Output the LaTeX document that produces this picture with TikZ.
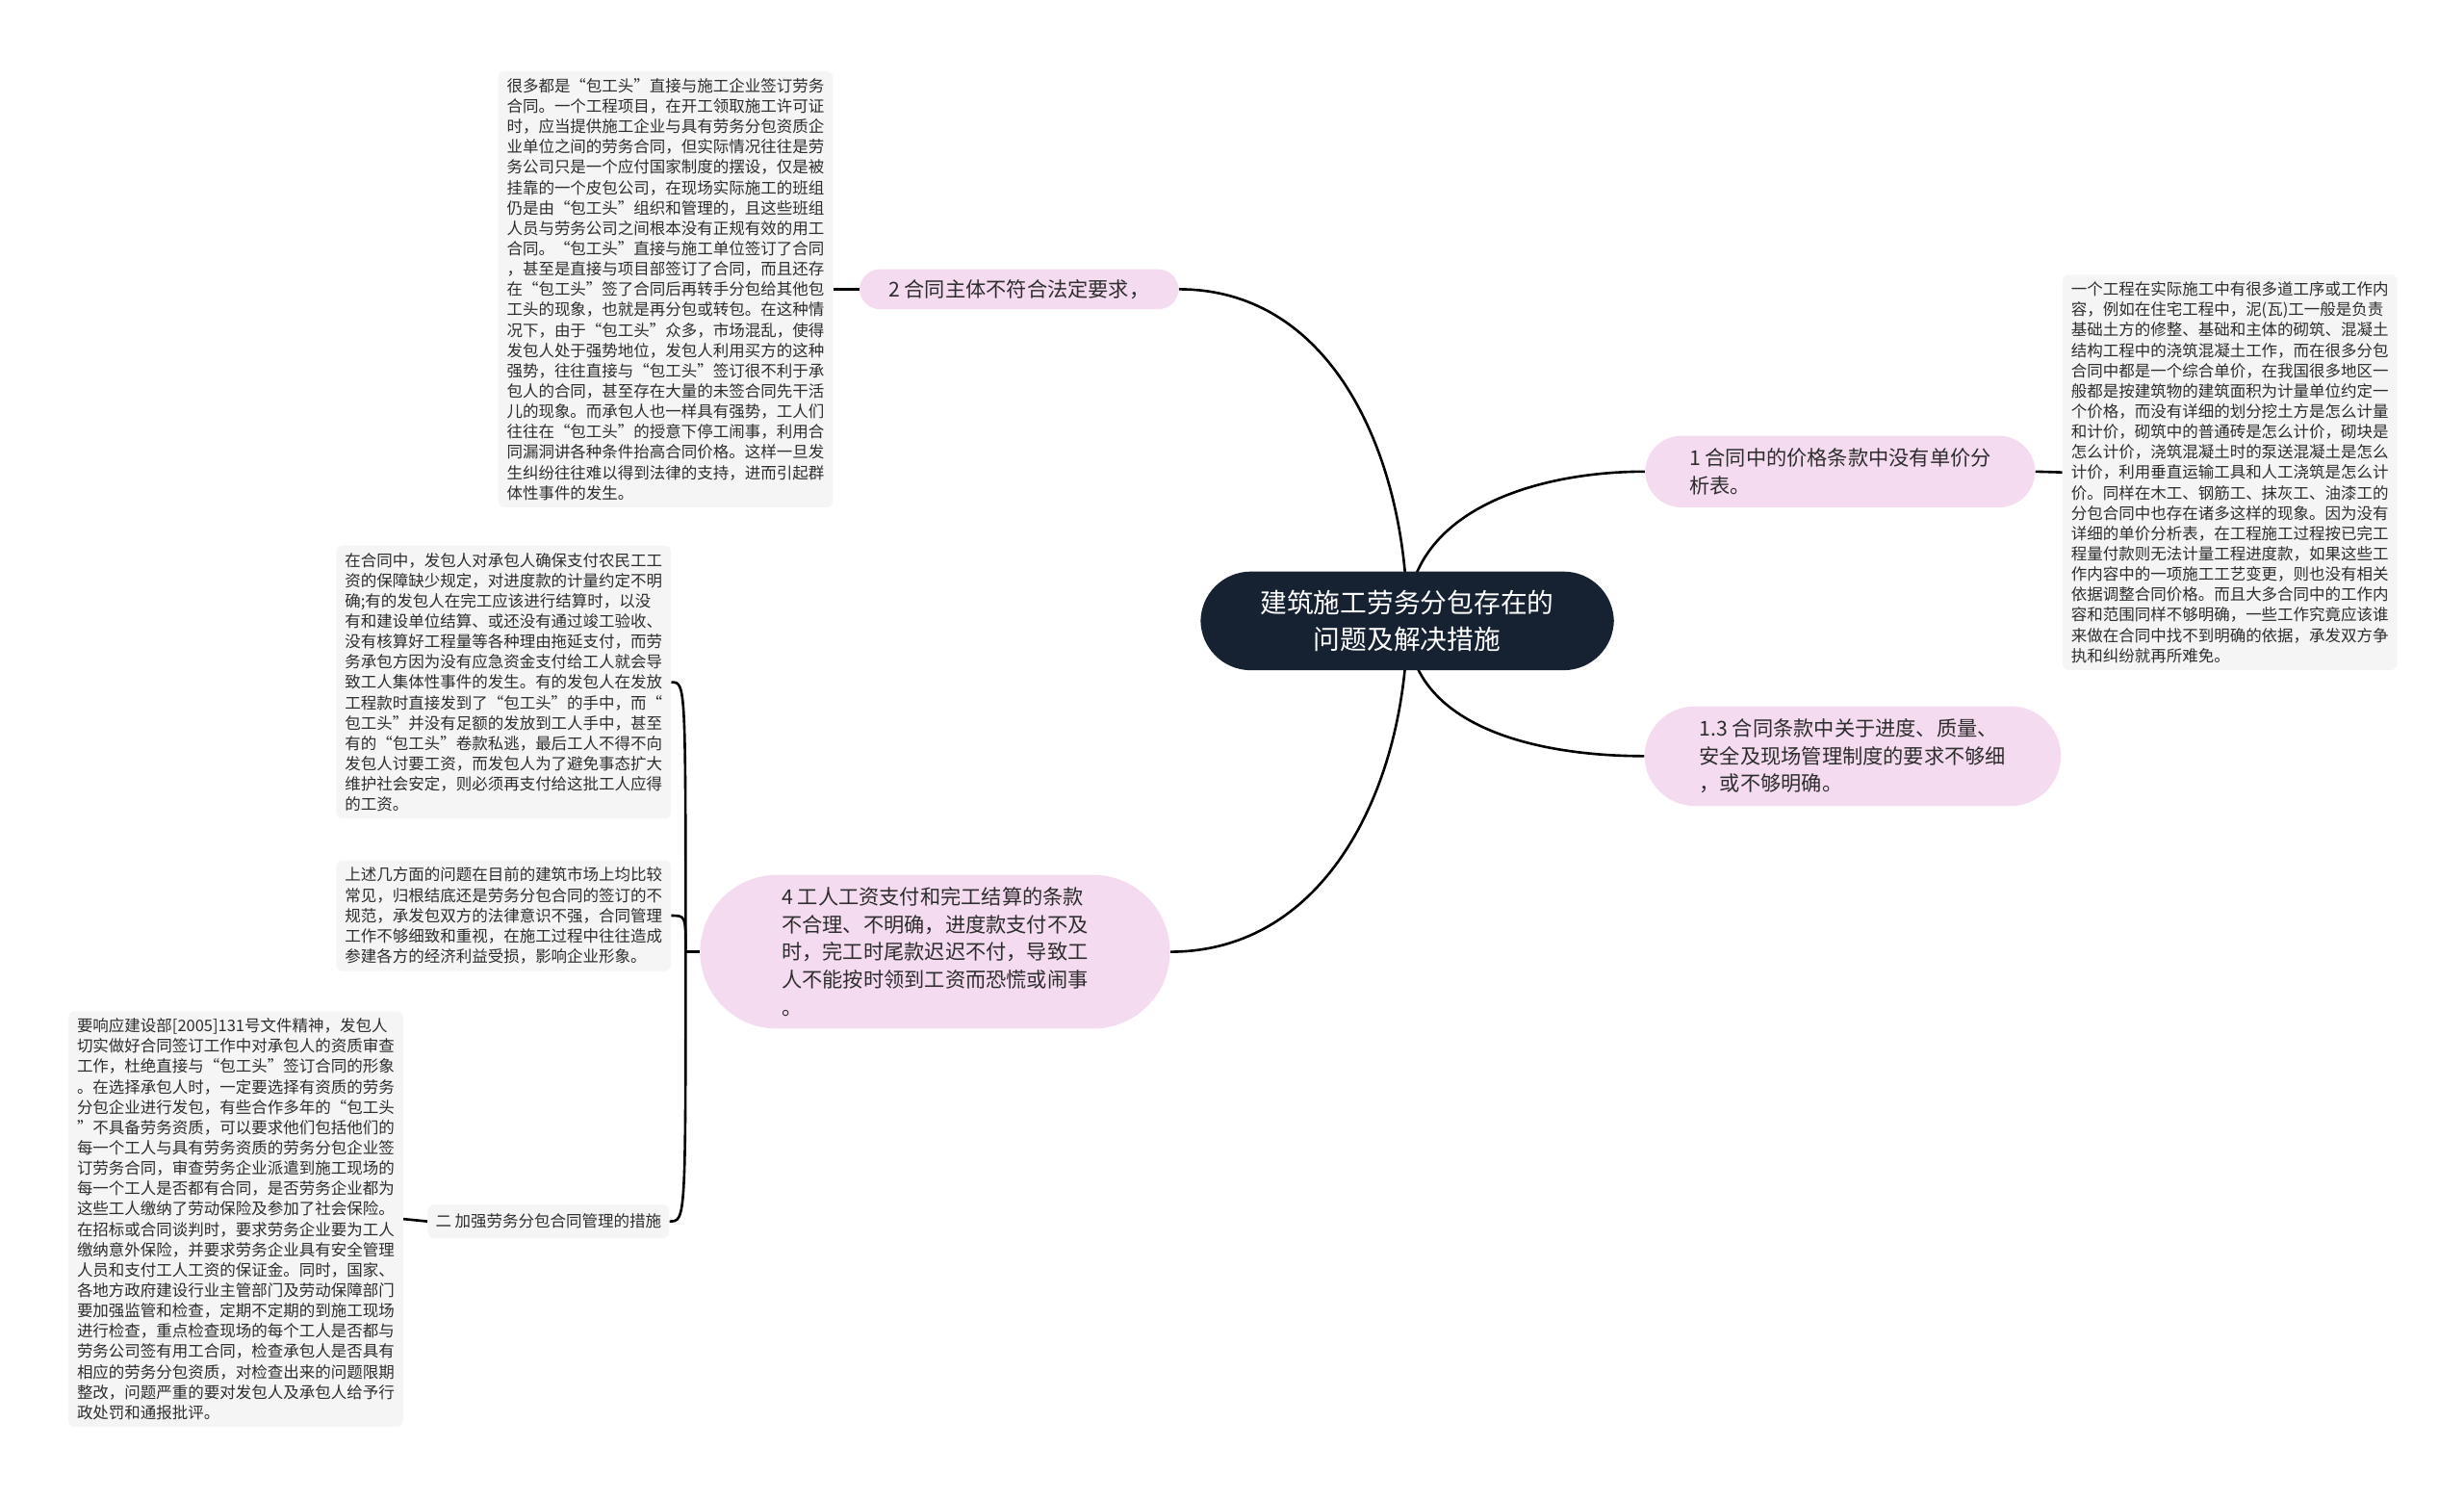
\documentclass[tikz,border=0pt]{standalone}
\usepackage{fontspec}
\setmainfont{Noto Sans CJK SC}
\usetikzlibrary{calc}

\definecolor{hubfill}{RGB}{22,33,49}
\definecolor{petal}{RGB}{245,219,240}
\definecolor{notefill}{RGB}{245,245,245}
\definecolor{ink}{RGB}{45,45,45}
\pgfdeclarelayer{back}
\pgfsetlayers{back,main}

\begin{document}
\begin{tikzpicture}[x=1pt,y=1pt,
  every edge/.append style={line width=1.6pt,black},
  hub node/.style={rectangle,rounded corners=32pt,fill=hubfill,text=white,inner xsep=38pt,inner ysep=12pt,align=center,font=\fontsize{17}{23}\selectfont},
  topic node/.style={rectangle,fill=petal,text=ink,inner ysep=8pt,align=left,font=\fontsize{13}{17.5}\selectfont},
  note node/.style={rectangle,rounded corners=4pt,fill=notefill,text=ink,inner xsep=5.5pt,inner ysep=4.5pt,align=left,font=\fontsize{10.1}{12.95}\selectfont},
  fork line/.style={to path={.. controls (\tikztostart |- \tikztotarget) .. (\tikztotarget)}}]

\useasboundingbox (0,0) rectangle (1568,-954);

\node[hub node](hub) at (895.5,-395) {建筑施工劳务分包存在的\\问题及解决措施};

\node[topic node,inner ysep=6.5pt,inner xsep=18.5pt,rounded corners=13pt](p2) at (648.5,-184) {2 合同主体不符合法定要求，};
\node[topic node,inner xsep=28pt,rounded corners=23pt](p1) at (1171,-300) {1 合同中的价格条款中没有单价分\\析表。};
\node[topic node,inner xsep=35pt,rounded corners=32pt](p13) at (1179,-481) {1.3 合同条款中关于进度、质量、\\安全及现场管理制度的要求不够细\\，或不够明确。};
\node[topic node,inner xsep=52pt,rounded corners=49pt](p4) at (595,-605.5) {4 工人工资支付和完工结算的条款\\不合理、不明确，进度款支付不及\\时，完工时尾款迟迟不付，导致工\\人不能按时领到工资而恐慌或闹事\\。};

\node[note node](n2) at (423.5,-184) {很多都是“包工头”直接与施工企业签订劳务\\合同。一个工程项目，在开工领取施工许可证\\时，应当提供施工企业与具有劳务分包资质企\\业单位之间的劳务合同，但实际情况往往是劳\\务公司只是一个应付国家制度的摆设，仅是被\\挂靠的一个皮包公司，在现场实际施工的班组\\仍是由“包工头”组织和管理的，且这些班组\\人员与劳务公司之间根本没有正规有效的用工\\合同。“包工头”直接与施工单位签订了合同\\，甚至是直接与项目部签订了合同，而且还存\\在“包工头”签了合同后再转手分包给其他包\\工头的现象，也就是再分包或转包。在这种情\\况下，由于“包工头”众多，市场混乱，使得\\发包人处于强势地位，发包人利用买方的这种\\强势，往往直接与“包工头”签订很不利于承\\包人的合同，甚至存在大量的未签合同先干活\\儿的现象。而承包人也一样具有强势，工人们\\往往在“包工头”的授意下停工闹事，利用合\\同漏洞讲各种条件抬高合同价格。这样一旦发\\生纠纷往往难以得到法律的支持，进而引起群\\体性事件的发生。};

\node[note node](n1) at (1419,-300.5) {一个工程在实际施工中有很多道工序或工作内\\容，例如在住宅工程中，泥(瓦)工一般是负责\\基础土方的修整、基础和主体的砌筑、混凝土\\结构工程中的浇筑混凝土工作，而在很多分包\\合同中都是一个综合单价，在我国很多地区一\\般都是按建筑物的建筑面积为计量单位约定一\\个价格，而没有详细的划分挖土方是怎么计量\\和计价，砌筑中的普通砖是怎么计价，砌块是\\怎么计价，浇筑混凝土时的泵送混凝土是怎么\\计价，利用垂直运输工具和人工浇筑是怎么计\\价。同样在木工、钢筋工、抹灰工、油漆工的\\分包合同中也存在诸多这样的现象。因为没有\\详细的单价分析表，在工程施工过程按已完工\\程量付款则无法计量工程进度款，如果这些工\\作内容中的一项施工工艺变更，则也没有相关\\依据调整合同价格。而且大多合同中的工作内\\容和范围同样不够明确，一些工作究竟应该谁\\来做在合同中找不到明确的依据，承发双方争\\执和纠纷就再所难免。};

\node[note node](n4a) at (320.5,-434) {在合同中，发包人对承包人确保支付农民工工\\资的保障缺少规定，对进度款的计量约定不明\\确;有的发包人在完工应该进行结算时，以没\\有和建设单位结算、或还没有通过竣工验收、\\没有核算好工程量等各种理由拖延支付，而劳\\务承包方因为没有应急资金支付给工人就会导\\致工人集体性事件的发生。有的发包人在发放\\工程款时直接发到了“包工头”的手中，而“\\包工头”并没有足额的发放到工人手中，甚至\\有的“包工头”卷款私逃，最后工人不得不向\\发包人讨要工资，而发包人为了避免事态扩大\\维护社会安定，则必须再支付给这批工人应得\\的工资。};

\node[note node](n4b) at (320.5,-582.5) {上述几方面的问题在目前的建筑市场上均比较\\常见，归根结底还是劳务分包合同的签订的不\\规范，承发包双方的法律意识不强，合同管理\\工作不够细致和重视，在施工过程中往往造成\\参建各方的经济利益受损，影响企业形象。};

\node[note node,inner xsep=5pt,inner ysep=6pt](n4c) at (349,-777) {二 加强劳务分包合同管理的措施};

\node[note node](n4d) at (150,-775.5) {要响应建设部[2005]131号文件精神，发包人\\切实做好合同签订工作中对承包人的资质审查\\工作，杜绝直接与“包工头”签订合同的形象\\。在选择承包人时，一定要选择有资质的劳务\\分包企业进行发包，有些合作多年的“包工头\\”不具备劳务资质，可以要求他们包括他们的\\每一个工人与具有劳务资质的劳务分包企业签\\订劳务合同，审查劳务企业派遣到施工现场的\\每一个工人是否都有合同，是否劳务企业都为\\这些工人缴纳了劳动保险及参加了社会保险。\\在招标或合同谈判时，要求劳务企业要为工人\\缴纳意外保险，并要求劳务企业具有安全管理\\人员和支付工人工资的保证金。同时，国家、\\各地方政府建设行业主管部门及劳动保障部门\\要加强监管和检查，定期不定期的到施工现场\\进行检查，重点检查现场的每个工人是否都与\\劳务公司签有用工合同，检查承包人是否具有\\相应的劳务分包资质，对检查出来的问题限期\\整改，问题严重的要对发包人及承包人给予行\\政处罚和通报批评。};

\coordinate (j4) at ($(p4.west)+(-9,0)$);

\begin{pgfonlayer}{back}
\path
(hub.center) edge[out=90,in=0] (p2.east)
(hub.center) edge[out=-90,in=0] (p4.east)
(hub.center) edge[out=90,in=180] (p1.west)
(hub.center) edge[out=-90,in=180] (p13.west)
(n2.east) edge (p2.west)
(p1.east) edge (n1.west)
(n4d.east) edge (n4c.west)
(p4.west) edge (j4)
(j4) edge[fork line] (n4a.east)
(j4) edge[fork line] (n4b.east)
(j4) edge[fork line] (n4c.east);
\end{pgfonlayer}

\end{tikzpicture}
\end{document}
